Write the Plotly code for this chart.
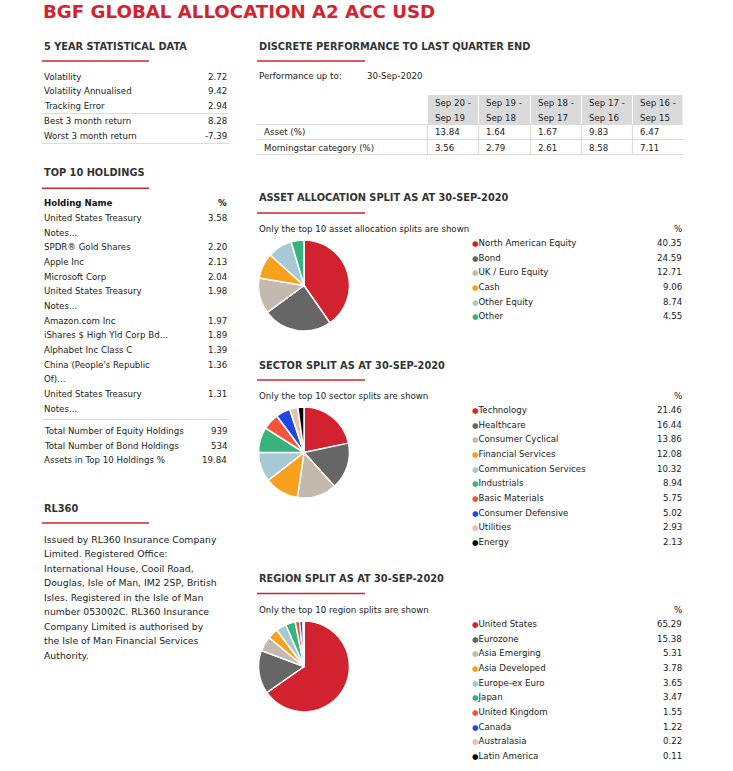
import plotly.graph_objects as go

W, H = 733, 771
FONT = "DejaVu Sans"
RED = "#d2232f"
DARK = "#222222"
LINE = "#dcdcdc"

title = "BGF GLOBAL ALLOCATION A2 ACC USD"

stat_labels = ["Volatility", "Volatility Annualised", "Tracking Error",
               "Best 3 month return", "Worst 3 month return"]
stat_values = ["2.72", "9.42", "2.94", "8.28", "-7.39"]

holding_lines = ["United States Treasury", "Notes...", "SPDR® Gold Shares", "Apple Inc",
                 "Microsoft Corp", "United States Treasury", "Notes...", "Amazon.com Inc",
                 "iShares $ High Yld Corp Bd...", "Alphabet Inc Class C",
                 "China (People's Republic", "Of)...", "United States Treasury", "Notes..."]
holding_values = ["3.58", "", "2.20", "2.13", "2.04", "1.98", "", "1.97", "1.89",
                  "1.39", "1.36", "", "1.31", ""]

total_labels = ["Total Number of Equity Holdings", "Total Number of Bond Holdings",
                "Assets in Top 10 Holdings %"]
total_values = ["939", "534", "19.84"]

rl360_lines = ["Issued by RL360 Insurance Company", "Limited. Registered Office:",
               "International House, Cooil Road,", "Douglas, Isle of Man, IM2 2SP, British",
               "Isles. Registered in the Isle of Man", "number 053002C. RL360 Insurance",
               "Company Limited is authorised by", "the Isle of Man Financial Services",
               "Authority."]

perf_headers = [["Sep 20 -", "Sep 19"], ["Sep 19 -", "Sep 18"], ["Sep 18 -", "Sep 17"],
                ["Sep 17 -", "Sep 16"], ["Sep 16 -", "Sep 15"]]
perf_rows = ["Asset (%)", "Morningstar category (%)"]
perf_asset = ["13.84", "1.64", "1.67", "9.83", "6.47"]
perf_category = ["3.56", "2.79", "2.61", "8.58", "7.11"]

palette = ["#d3222f", "#666666", "#c5b9ad", "#f9a11e", "#a6c9d5", "#36b37e",
           "#f4553a", "#1d48e3", "#e9c0b3", "#000000"]

asset_labels = ["North American Equity", "Bond", "UK / Euro Equity", "Cash",
                "Other Equity", "Other"]
asset_values = [40.35, 24.59, 12.71, 9.06, 8.74, 4.55]

sector_labels = ["Technology", "Healthcare", "Consumer Cyclical", "Financial Services",
                 "Communication Services", "Industrials", "Basic Materials",
                 "Consumer Defensive", "Utilities", "Energy"]
sector_values = [21.46, 16.44, 13.86, 12.08, 10.32, 8.94, 5.75, 5.02, 2.93, 2.13]

region_labels = ["United States", "Eurozone", "Asia Emerging", "Asia Developed",
                 "Europe-ex Euro", "Japan", "United Kingdom", "Canada", "Australasia",
                 "Latin America"]
region_values = [65.29, 15.38, 5.31, 3.78, 3.65, 3.47, 1.55, 1.22, 0.22, 0.11]

fig = go.Figure()
ann = []
shp = []

BODY = 8.65


def px(x):
    return x / W


def py(y):
    return 1 - y / H


def text(x, y, s, size=BODY, color=DARK, anchor="left", bold=False):
    ann.append(dict(x=px(x), y=py(y), xref="paper", yref="paper", text=s,
                    showarrow=False, xanchor=anchor, yanchor="middle",
                    font=dict(family=FONT, size=size, color=color,
                              weight="bold" if bold else "normal")))


def hline(x0, x1, y, color=LINE, width=1):
    shp.append(dict(type="line", xref="paper", yref="paper", x0=px(x0), x1=px(x1),
                    y0=py(y), y1=py(y), line=dict(color=color, width=width)))


def vline(x, y0, y1, color=LINE, width=1):
    shp.append(dict(type="line", xref="paper", yref="paper", x0=px(x), x1=px(x),
                    y0=py(y0), y1=py(y1), line=dict(color=color, width=width)))


def rect(x0, x1, y0, y1, color):
    shp.append(dict(type="rect", xref="paper", yref="paper", x0=px(x0), x1=px(x1),
                    y0=py(y1), y1=py(y0), fillcolor=color, line=dict(width=0), layer="below"))


def header(x, y, s, line_y, line_len):
    text(x, y, s, size=9.8, bold=True, color="#333333")
    hline(x, x + line_len, line_y, color=RED, width=1.5)


# Title
text(41, 12, title, size=18.2, color=RED, bold=True)

# 5 year stats
LX, RX = 42, 229
header(LX, 46, "5 YEAR STATISTICAL DATA", 61, 107)
stat_y = [77, 91, 106, 121, 136]
for lab, val, yy in zip(stat_labels, stat_values, stat_y):
    text(LX, yy, lab)
    text(RX, yy, val, anchor="right")
hline(LX, RX, 113.5)
hline(LX, RX, 143.5)

# Top 10 holdings
header(LX, 173, "TOP 10 HOLDINGS", 188.3, 107)
text(LX, 203.5, "Holding Name", bold=True, color="#111111")
text(RX, 203.5, "%", bold=True, color="#111111", anchor="right")
hold_y0, hold_dy = 218, 14.67
for i, (lab, val) in enumerate(zip(holding_lines, holding_values)):
    yy = hold_y0 + i * hold_dy
    text(LX, yy, lab)
    if val:
        text(RX, yy, val, anchor="right")
hline(LX, RX, 419.5)
for i, (lab, val) in enumerate(zip(total_labels, total_values)):
    yy = 431 + i * 14.6
    text(LX, yy, lab)
    text(RX, yy, val, anchor="right")

# RL360
header(LX, 508, "RL360", 523, 107)
for i, s in enumerate(rl360_lines):
    text(LX, 539.3 + i * 14.5, s, size=9.3)

# Discrete performance
RXX = 257
header(RXX, 46, "DISCRETE PERFORMANCE TO LAST QUARTER END", 61, 108)
text(RXX, 76.5, "Performance up to:")
text(365, 76.5, "30-Sep-2020")
col_edges = [428, 479, 531, 582, 633, 683.5]
for i in range(5):
    rect(col_edges[i], col_edges[i + 1] - 1, 95, 124.5, "#dadada")
    text(col_edges[i] + 5, 103, perf_headers[i][0])
    text(col_edges[i] + 5, 117.5, perf_headers[i][1])
    text(col_edges[i] + 5, 131.7, perf_asset[i])
    text(col_edges[i] + 5, 147.7, perf_category[i])
for yy in [124.5, 139.5, 154.5]:
    hline(RXX, 683.5, yy, width=1.2)
for xx in col_edges[:-1]:
    vline(xx - 0.5, 124.5, 154.5, width=1.2)
text(262, 131.7, perf_rows[0])
text(262, 147.7, perf_rows[1])


def split_section(title_y, title_s, sub_s, labels, values, item_y0, cy):
    header(RXX, title_y, title_s, title_y + 15, 108)
    text(RXX, title_y + 31, sub_s)
    text(683.5, title_y + 31, "%", anchor="right")
    for i, (lab, val) in enumerate(zip(labels, values)):
        yy = item_y0 + i * 14.67
        text(470, yy, "<span style='color:%s;font-size:7.5px'>●</span>%s" % (palette[i], lab))
        text(683.5, yy, "%.2f" % val, anchor="right")
    r = 45.5
    fig.add_trace(go.Pie(values=values, labels=labels, sort=False, direction="clockwise",
                         rotation=0, textinfo="none", showlegend=False,
                         marker=dict(colors=palette[:len(values)],
                                     line=dict(color="white", width=1.5)),
                         domain=dict(x=[px(304 - r), px(304 + r)],
                                     y=[py(cy + r), py(cy - r)])))


split_section(198, "ASSET ALLOCATION SPLIT AS AT 30-SEP-2020",
              "Only the top 10 asset allocation splits are shown",
              asset_labels, asset_values, 243, 285.5)
split_section(365, "SECTOR SPLIT AS AT 30-SEP-2020",
              "Only the top 10 sector splits are shown",
              sector_labels, sector_values, 410, 452.5)
split_section(578.5, "REGION SPLIT AS AT 30-SEP-2020",
              "Only the top 10 region splits are shown",
              region_labels, region_values, 624, 666.5)

fig.update_layout(width=W, height=H, margin=dict(l=0, r=0, t=0, b=0),
                  paper_bgcolor="white", plot_bgcolor="white",
                  annotations=ann, shapes=shp)

fig.write_html("out.html", config={"displayModeBar": False},
               post_script="document.body.style.margin='0';document.body.style.overflow='hidden';")
